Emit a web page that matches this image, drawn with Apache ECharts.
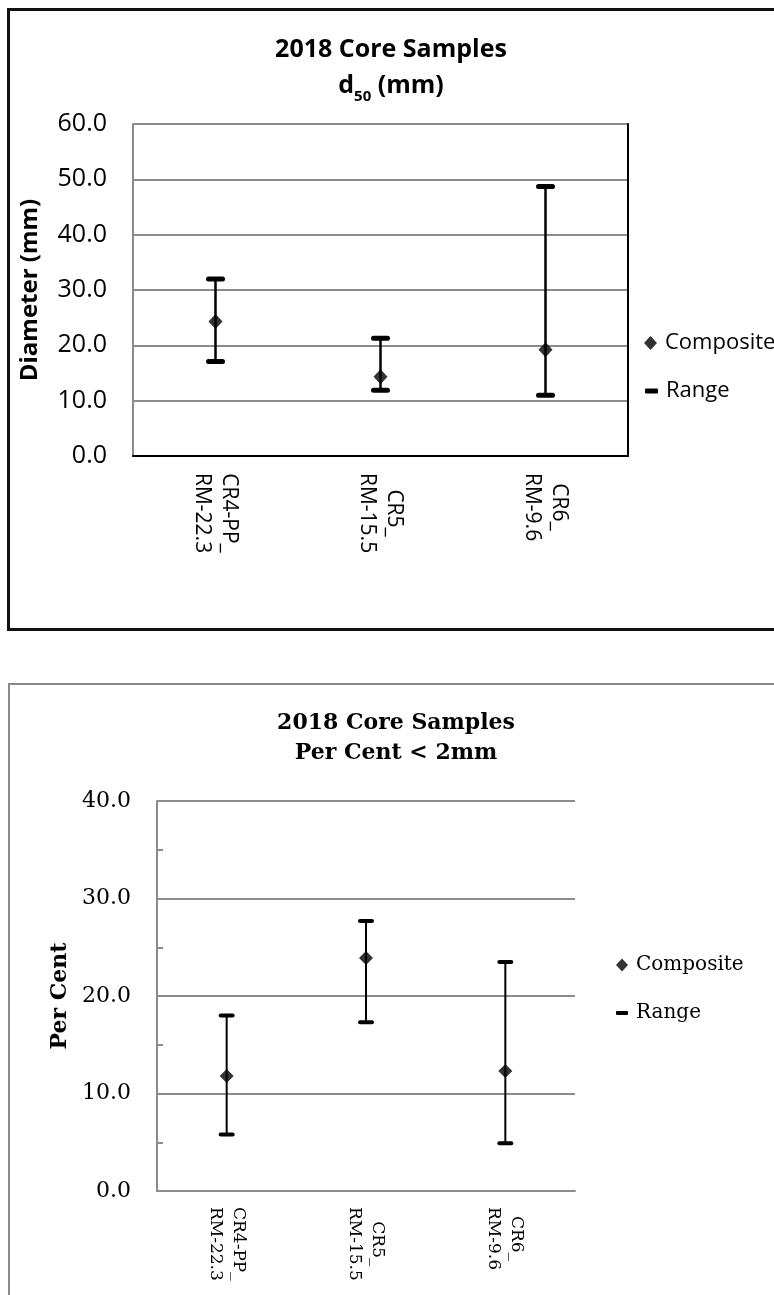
<!DOCTYPE html>
<html>
<head>
<meta charset="utf-8">
<title>2018 Core Samples</title>
<script src="https://cdn.jsdelivr.net/npm/echarts@6/dist/echarts.min.js"></script>
<style>
  html, body { margin: 0; padding: 0; background: #fff; overflow: hidden; width: 774px; height: 1295px; }
  .frame { position: absolute; box-sizing: border-box; }
  #frame1 { left: 7px; top: 8px; width: 900px; height: 623px; border: 3px solid #111; }
  #frame2 { left: 8px; top: 683px; width: 900px; height: 800px; border: 2px solid #8a8a8a; }
  .chart { position: absolute; left: 0; width: 774px; }
  #chart1 { top: 0; height: 640px; }
  #chart2 { top: 645px; height: 650px; }
</style>
</head>
<body>
<div class="frame" id="frame1"></div>
<div class="frame" id="frame2"></div>
<div class="chart" id="chart1"></div>
<div class="chart" id="chart2"></div>
<script>
// sample names (two-line category labels)
const samples = ['CR4-PP_\nRM-22.3', 'CR5_\nRM-15.5', 'CR6_\nRM-9.6'];

// chart 1: d50 (mm)
const d50Composite = [24.3, 14.3, 19.2];
const d50Low = [17.1, 11.9, 11.0];
const d50High = [32.0, 21.3, 48.7];
const d50Axis = { min: 0, max: 60, interval: 10 };

// chart 2: per cent < 2mm
const fineComposite = [11.8, 23.9, 12.3];
const fineLow = [5.8, 17.3, 4.9];
const fineHigh = [18.0, 27.7, 23.5];
const fineAxis = { min: 0, max: 40, interval: 10 };

const GRID_GRAY = '#8c8c8c';

// error bar drawn through the axis scales
const makeRangeRenderer = (capW, capT, lineW) => (params, api) => {
  const x = api.value(0);
  const lo = api.coord([x, api.value(1)]);
  const hi = api.coord([x, api.value(2)]);
  const cap = { stroke: '#000', lineWidth: capT, lineCap: 'round' };
  return {
    type: 'group',
    children: [
      { type: 'line', shape: { x1: lo[0], y1: lo[1], x2: hi[0], y2: hi[1] }, style: { stroke: '#000', lineWidth: lineW } },
      { type: 'line', shape: { x1: lo[0] - capW / 2, y1: lo[1], x2: lo[0] + capW / 2, y2: lo[1] }, style: cap },
      { type: 'line', shape: { x1: hi[0] - capW / 2, y1: hi[1], x2: hi[0] + capW / 2, y2: hi[1] }, style: cap }
    ]
  };
};

const centeredLines = (value) => value.split('\n').map(s => '{c|' + s + '}').join('\n');

// ---------- chart 1 ----------
const sans = 'Open Sans';
const chart1 = echarts.init(document.getElementById('chart1'));
chart1.setOption({
  animation: false,
  title: {
    left: 391,
    top: 32,
    textAlign: 'center',
    padding: 0,
    text: '{t|2018 Core Samples}\n{t|d}{s|50}{t| (mm)}',
    textStyle: {
      rich: {
        t: { fontFamily: sans, fontSize: 25, fontWeight: 'bold', color: '#000', lineHeight: 36, align: 'center' },
        s: { fontFamily: sans, fontSize: 15, fontWeight: 'bold', color: '#000', lineHeight: 20, verticalAlign: 'bottom', align: 'center' }
      }
    }
  },
  legend: [
    {
      data: ['Composite'], left: 644, top: 332, padding: 0,
      icon: 'diamond', itemWidth: 13, itemHeight: 14,
      textStyle: { fontFamily: sans, fontSize: 22, color: '#000', padding: [0, 0, 0, 3] }
    },
    {
      data: ['Range'], left: 645, top: 380, padding: 0,
      icon: 'roundRect', itemWidth: 13, itemHeight: 5,
      textStyle: { fontFamily: sans, fontSize: 22, color: '#000', padding: [0, 0, 0, 3] }
    }
  ],
  grid: { left: 133, right: 146, top: 124, bottom: 184, outerBoundsMode: 'none' },
  xAxis: [
    {
      type: 'category',
      data: samples,
      axisLine: { lineStyle: { color: GRID_GRAY, width: 2 } },
      axisTick: { inside: true, length: 5, lineStyle: { color: GRID_GRAY, width: 2 } },
      axisLabel: {
        rotate: -90, margin: 17, color: '#000', formatter: centeredLines,
        rich: { c: { fontFamily: sans, fontSize: 21, lineHeight: 27, align: 'center', color: '#000' } }
      }
    },
    {
      type: 'category', data: samples, position: 'top', z: 5,
      axisLine: { lineStyle: { color: '#000', width: 2 } },
      axisTick: { show: false }, axisLabel: { show: false }
    }
  ],
  yAxis: [
    {
      type: 'value',
      min: d50Axis.min, max: d50Axis.max, interval: d50Axis.interval,
      name: 'Diameter (mm)', nameLocation: 'middle', nameRotate: 90, nameGap: 91,
      nameTextStyle: { fontFamily: sans, fontSize: 24, fontWeight: 'bold', color: '#000' },
      axisLine: { show: true, lineStyle: { color: GRID_GRAY, width: 2 } },
      axisTick: { show: false },
      axisLabel: { margin: 26, fontFamily: sans, fontSize: 25, color: '#000', formatter: v => v.toFixed(1) },
      splitLine: { lineStyle: { color: GRID_GRAY, width: 2 } }
    },
    {
      type: 'value', position: 'right', z: 5,
      min: d50Axis.min, max: d50Axis.max, interval: d50Axis.interval,
      axisLine: { show: true, lineStyle: { color: '#000', width: 2 } },
      axisTick: { show: false }, axisLabel: { show: false }, splitLine: { show: false }
    }
  ],
  series: [
    {
      name: 'Range', type: 'custom', z: 3,
      itemStyle: { color: '#000' },
      renderItem: makeRangeRenderer(14, 5, 2.5),
      encode: { x: 0, y: [1, 2] },
      data: samples.map((s, i) => [i, d50Low[i], d50High[i]])
    },
    {
      name: 'Composite', type: 'scatter', z: 4,
      symbol: 'diamond', symbolSize: [14, 15],
      itemStyle: { color: '#000' },
      data: d50Composite
    }
  ]
});

// ---------- chart 2 ----------
const serif = 'DejaVu Serif';
const chart2 = echarts.init(document.getElementById('chart2'));
chart2.setOption({
  animation: false,
  title: {
    left: 396,
    top: 63,
    textAlign: 'center',
    padding: 0,
    text: '2018 Core Samples\nPer Cent < 2mm',
    textStyle: { fontFamily: serif, fontSize: 22, fontWeight: 'bold', color: '#000', lineHeight: 30 }
  },
  legend: [
    {
      data: ['Composite'], left: 616, top: 310, padding: 0,
      icon: 'diamond', itemWidth: 12, itemHeight: 13,
      textStyle: { fontFamily: serif, fontSize: 20, color: '#000', padding: [0, 0, 0, 3] }
    },
    {
      data: ['Range'], left: 616, top: 358, padding: 0,
      icon: 'roundRect', itemWidth: 12, itemHeight: 4,
      textStyle: { fontFamily: serif, fontSize: 20, color: '#000', padding: [0, 0, 0, 3] }
    }
  ],
  grid: { left: 157, right: 199, top: 156, bottom: 104, outerBoundsMode: 'none' },
  xAxis: {
    type: 'category',
    data: samples,
    axisLine: { lineStyle: { color: GRID_GRAY, width: 2 } },
    axisTick: { show: false },
    axisLabel: {
      rotate: -90, margin: 16, color: '#000', formatter: centeredLines,
      rich: { c: { fontFamily: serif, fontSize: 17, lineHeight: 23, align: 'center', color: '#000' } }
    }
  },
  yAxis: {
    type: 'value',
    min: fineAxis.min, max: fineAxis.max, interval: fineAxis.interval,
    name: 'Per Cent', nameLocation: 'middle', nameRotate: 90, nameGap: 86,
    nameTextStyle: { fontFamily: serif, fontSize: 22, fontWeight: 'bold', color: '#000' },
    axisLine: { show: true, lineStyle: { color: GRID_GRAY, width: 2 } },
    axisTick: { show: false, inside: true },
    minorTick: { show: true, splitNumber: 2, length: 6, lineStyle: { color: GRID_GRAY, width: 2 } },
    axisLabel: { margin: 26, fontFamily: serif, fontSize: 22, color: '#000', formatter: v => v.toFixed(1) },
    splitLine: { lineStyle: { color: GRID_GRAY, width: 2 } }
  },
  series: [
    {
      name: 'Range', type: 'custom', z: 3,
      itemStyle: { color: '#000' },
      renderItem: makeRangeRenderer(12, 4, 2),
      encode: { x: 0, y: [1, 2] },
      data: samples.map((s, i) => [i, fineLow[i], fineHigh[i]])
    },
    {
      name: 'Composite', type: 'scatter', z: 4,
      symbol: 'diamond', symbolSize: [14, 14],
      itemStyle: { color: '#000' },
      data: fineComposite
    }
  ]
});

window.addEventListener('resize', () => {
  chart1.resize();
  chart2.resize();
});
</script>
</body>
</html>
